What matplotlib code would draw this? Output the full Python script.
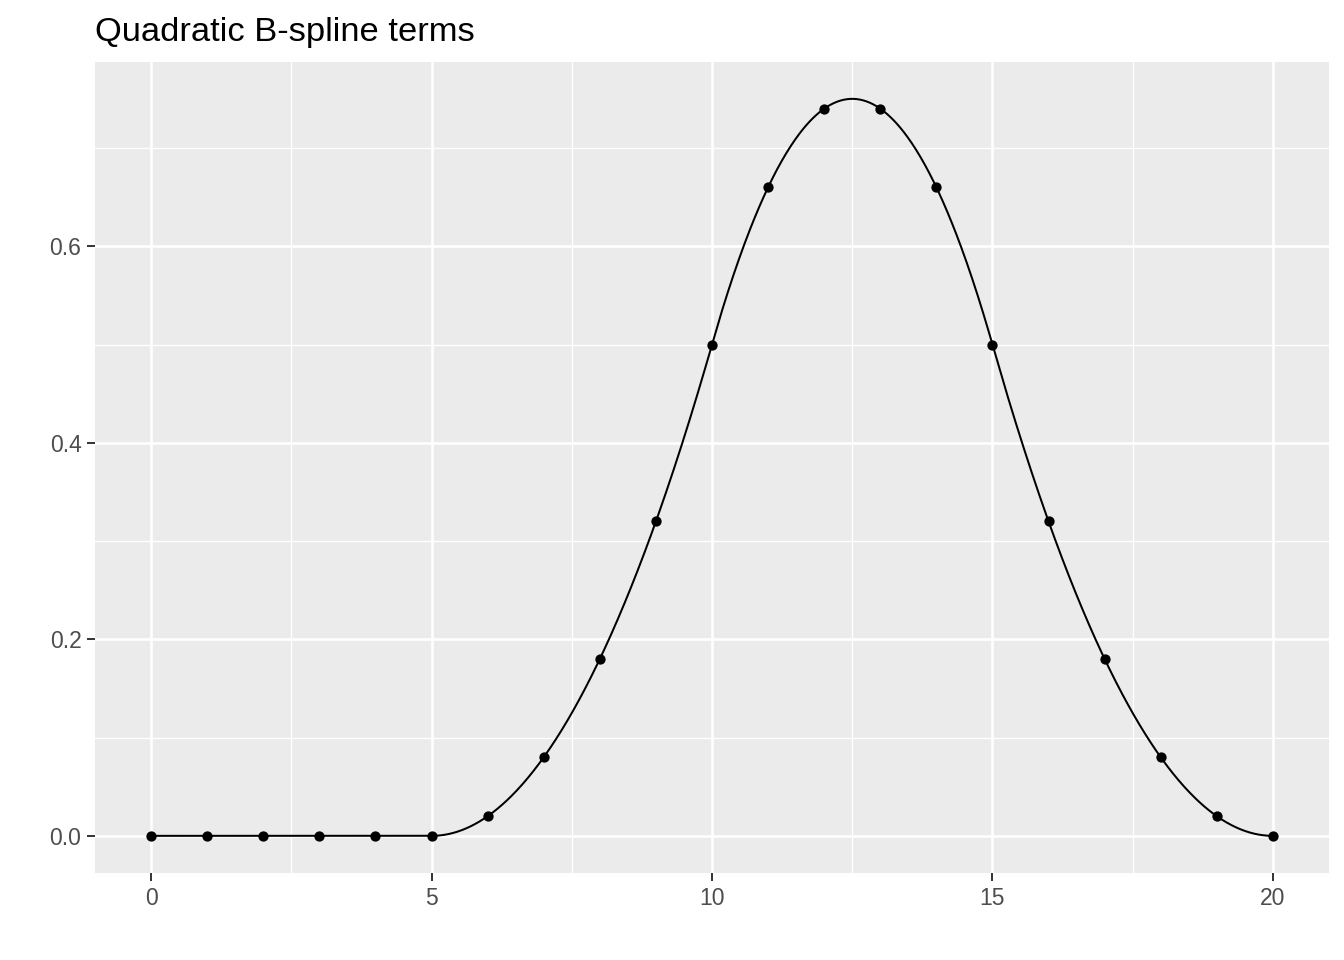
import numpy as np
import matplotlib
matplotlib.use("Agg")
import matplotlib.pyplot as plt
from matplotlib.ticker import FixedLocator

plt.rcParams['font.family'] = ['Liberation Sans', 'DejaVu Sans']

# Data
x_points = [0, 1, 2, 3, 4, 5, 6, 7, 8, 9, 10, 11, 12, 13, 14, 15, 16, 17, 18, 19, 20]
y_points = [0, 0, 0, 0, 0, 0, 0.02, 0.08, 0.18, 0.32, 0.5, 0.66, 0.74, 0.74, 0.66, 0.5,
            0.32, 0.18, 0.08, 0.02, 0]
knots = [5, 10, 15, 20]   # knots of the single quadratic B-spline term
degree = 2
title = "Quadratic B-spline terms"
x_ticks = [0, 5, 10, 15, 20]
x_minor = [2.5, 7.5, 12.5, 17.5]
y_ticks = [0.0, 0.2, 0.4, 0.6]
y_minor = [0.1, 0.3, 0.5, 0.7]
y_tick_labels = ["0.0", "0.2", "0.4", "0.6"]


def bspline_basis(x, t, k):
    """Cox-de Boor recursion for one B-spline basis with knot vector t."""
    if k == 0:
        return np.where((x >= t[0]) & (x < t[-1]), 1.0, 0.0)
    left = (x - t[0]) / (t[k] - t[0]) * bspline_basis(x, t[:-1], k - 1)
    right = (t[k + 1] - x) / (t[k + 1] - t[1]) * bspline_basis(x, t[1:], k - 1)
    return left + right


xs = np.linspace(x_points[0], x_points[-1], 1001)
ys = bspline_basis(xs, knots, degree)
ys[-1] = 0.0

fig = plt.figure(figsize=(13.44, 9.6), dpi=100)
ax = fig.add_axes([95 / 1344, 1 - 872.7 / 960, (1329 - 95) / 1344, (872.7 - 62) / 960])
ax.set_facecolor('#EBEBEB')
for s in ax.spines.values():
    s.set_visible(False)

ax.plot(xs, ys, color='black', lw=1.45, zorder=3)
ax.scatter(x_points, y_points, s=55, color='black', zorder=4, linewidths=0)

ax.set_xlim(-1, 21)
ax.set_ylim(-0.0375, 0.7875)
ax.xaxis.set_major_locator(FixedLocator(x_ticks))
ax.xaxis.set_minor_locator(FixedLocator(x_minor))
ax.yaxis.set_major_locator(FixedLocator(y_ticks))
ax.yaxis.set_minor_locator(FixedLocator(y_minor))
ax.set_yticklabels(y_tick_labels)
ax.set_xticklabels([str(v) for v in x_ticks])

ax.grid(which='major', color='white', lw=1.9)
ax.grid(which='minor', color='white', lw=0.95)
ax.set_axisbelow(True)

ax.tick_params(which='major', length=5.8, width=1.4, color='#333333',
               labelsize=16.5, labelcolor='#4D4D4D')
ax.tick_params(axis='x', which='major', pad=4.5)
ax.tick_params(axis='y', which='major', pad=4.0)
ax.tick_params(which='minor', length=0)

fig.text(95 / 1344, 1 - 41 / 960, title, fontsize=24.8, color='black',
         ha='left', va='baseline')

fig.savefig('out.png', dpi=100)
